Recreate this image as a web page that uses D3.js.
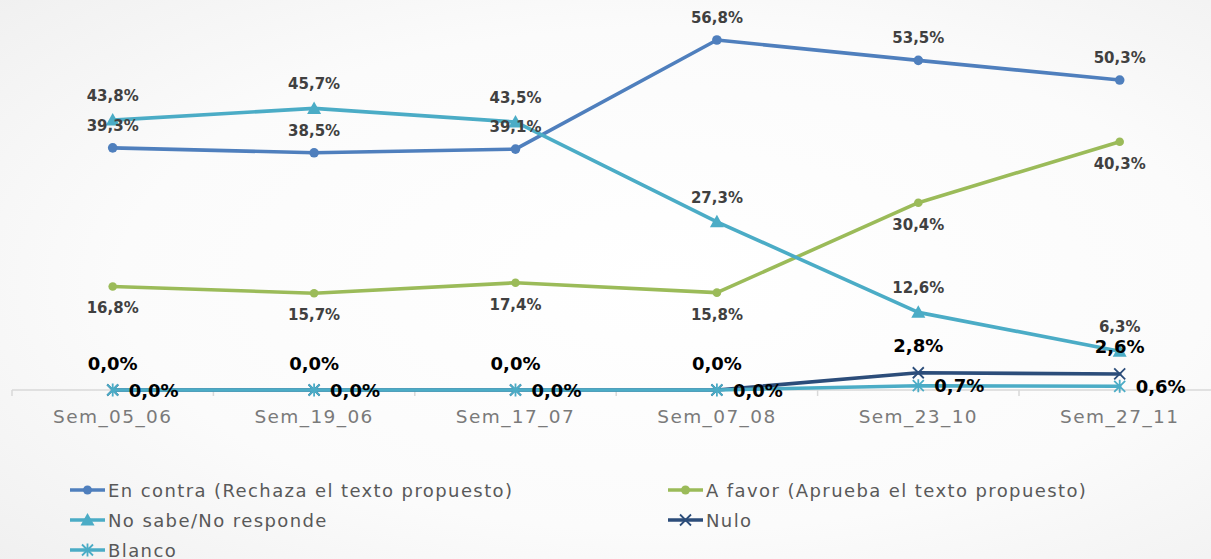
<!DOCTYPE html>
<html><head><meta charset="utf-8">
<script src="https://cdn.jsdelivr.net/npm/d3@7/dist/d3.min.js"></script>
<style>
html,body{margin:0;padding:0;background:#fff;}
svg{display:block;}
</style></head>
<body>
<svg id="c" width="1211" height="559"></svg>
<script>
const categories = ["Sem_05_06","Sem_19_06","Sem_17_07","Sem_07_08","Sem_23_10","Sem_27_11"];
const enContra = [39.3, 38.5, 39.1, 56.8, 53.5, 50.3];
const aFavor   = [16.8, 15.7, 17.4, 15.8, 30.4, 40.3];
const noSabe   = [43.8, 45.7, 43.5, 27.3, 12.6, 6.3];
const nulo     = [0, 0, 0, 0, 2.8, 2.6];
const blanco   = [0, 0, 0, 0, 0.7, 0.6];
const seriesNames = ["En contra (Rechaza el texto propuesto)","A favor (Aprueba el texto propuesto)","No sabe/No responde","Nulo","Blanco"];

const series = [
  {name: seriesNames[0], values: enContra, color:"#4f7fbd", marker:"circle", label:"above", lc:"#404040", fs:15, off:-22},
  {name: seriesNames[1], values: aFavor,  color:"#9bbb59", marker:"circle", label:"below", lc:"#404040", fs:15, off:22},
  {name: seriesNames[2], values: noSabe,  color:"#4bacc6", marker:"triangle", label:"above", lc:"#404040", fs:15, off:-24},
  {name: seriesNames[3], values: nulo,    color:"#2c4d7a", marker:"x", label:"above", lc:"#000", fs:18, off:-27},
  {name: seriesNames[4], values: blanco,  color:"#4bacc6", marker:"star", label:"right", lc:"#000", fs:18, off:0}
];

const svg = d3.select("#c");
const W = 1211, H = 559;
const defs = svg.append("defs");
const g1 = defs.append("radialGradient").attr("id","bg").attr("cx","0.55").attr("cy","0.5").attr("r","0.75");
g1.append("stop").attr("offset","0").attr("stop-color","#ffffff");
g1.append("stop").attr("offset","0.6").attr("stop-color","#fbfbfb");
g1.append("stop").attr("offset","1").attr("stop-color","#f0f0f0");
svg.append("rect").attr("width",W).attr("height",H).attr("fill","url(#bg)");

const x = d3.scaleBand().domain(categories).range([12, 1220.4]).paddingInner(0).paddingOuter(0);
const cx = c => x(c) + x.bandwidth()/2;
const y = d3.scaleLinear().domain([0, 60]).range([390, 20.3]);

// axis
const axisG = svg.append("g").attr("transform","translate(0,390)");
axisG.append("line").attr("x1",12).attr("x2",W).attr("y1",0).attr("y2",0).attr("stroke","#d9d9d9").attr("stroke-width",1.5);
const bounds = categories.map(c => x(c)).concat([x(categories[categories.length-1]) + x.bandwidth()]);
axisG.selectAll("line.tk").data(bounds).join("line").attr("class","tk")
  .attr("x1",d=>d).attr("x2",d=>d).attr("y1",0).attr("y2",6).attr("stroke","#d9d9d9").attr("stroke-width",1.5);
const ax = d3.axisBottom(x).tickSize(0).tickPadding(28);
const axLab = svg.append("g").attr("transform","translate(0,390)").call(ax);
axLab.select(".domain").remove();
axLab.selectAll("text").attr("font-family","DejaVu Sans, sans-serif").attr("font-size",18.5)
  .attr("fill","#7a7a7a").attr("letter-spacing","1.4px").attr("dy","0").attr("dominant-baseline","middle").attr("y",28);

const line = d3.line().x((d,i)=>cx(categories[i])).y(d=>y(d));

function drawMarker(sel, type, color, size){
  if(type==="circle"){
    sel.append("circle").attr("r",size||4.8).attr("fill",color);
  } else if(type==="triangle"){
    sel.append("path").attr("d","M0,-7 L7,5.5 L-7,5.5 Z").attr("fill",color);
  } else if(type==="x"){
    sel.append("path").attr("d","M-5.5,-5.5 L5.5,5.5 M-5.5,5.5 L5.5,-5.5").attr("stroke",color).attr("stroke-width",1.8).attr("fill","none");
  } else if(type==="star"){
    sel.append("path").attr("d","M-5.5,-5.5 L5.5,5.5 M-5.5,5.5 L5.5,-5.5 M0,-6.5 L0,6.5").attr("stroke",color).attr("stroke-width",1.8).attr("fill","none");
  }
}

const plot = svg.append("g");
series.forEach(s => {
  const gs = plot.append("g");
  gs.append("path").datum(s.values).attr("d",line).attr("fill","none").attr("stroke",s.color)
    .attr("stroke-width",3.6).attr("stroke-linejoin","round").attr("stroke-linecap","round");
  s.values.forEach((v,i)=>{
    const m = gs.append("g").attr("transform",`translate(${cx(categories[i])},${y(v)})`);
    drawMarker(m, s.marker, s.color, s.name===seriesNames[1]?4.3:4.8);
  });
});

const fmt = v => v.toFixed(1).replace(".",",") + "%";
const labels = svg.append("g");
series.forEach(s => {
  s.values.forEach((v,i)=>{
    const px = cx(categories[i]), py = y(v);
    const t = labels.append("text").text(fmt(v))
      .attr("font-family","DejaVu Sans, sans-serif").attr("font-weight","bold")
      .attr("fill",s.lc).attr("dominant-baseline","central").attr("font-size",s.fs);
    if(s.label==="right"){
      t.attr("x",px+16).attr("y",py).attr("text-anchor","start");
    } else {
      t.attr("x",px).attr("y",py+s.off).attr("text-anchor","middle");
    }
  });
});

// legend
const legendPos = [
  {x:70, y:490},{x:668, y:490},{x:70, y:520},{x:668, y:520},{x:70, y:550}
];
const lg = svg.append("g");
series.forEach((s,i)=>{
  const p = legendPos[i];
  const it = lg.append("g").attr("transform",`translate(${p.x},${p.y})`);
  it.append("line").attr("x1",0).attr("x2",35).attr("y1",0).attr("y2",0).attr("stroke",s.color).attr("stroke-width",3.6);
  const m = it.append("g").attr("transform","translate(17.5,0)");
  drawMarker(m, s.marker, s.color, 4.5);
  it.append("text").attr("x",38).attr("y",0).attr("dominant-baseline","central")
    .attr("font-family","DejaVu Sans, sans-serif").attr("font-size",18).attr("fill","#595959")
    .attr("letter-spacing","1.4px")
    .text(s.name);
});
</script>
</body></html>
